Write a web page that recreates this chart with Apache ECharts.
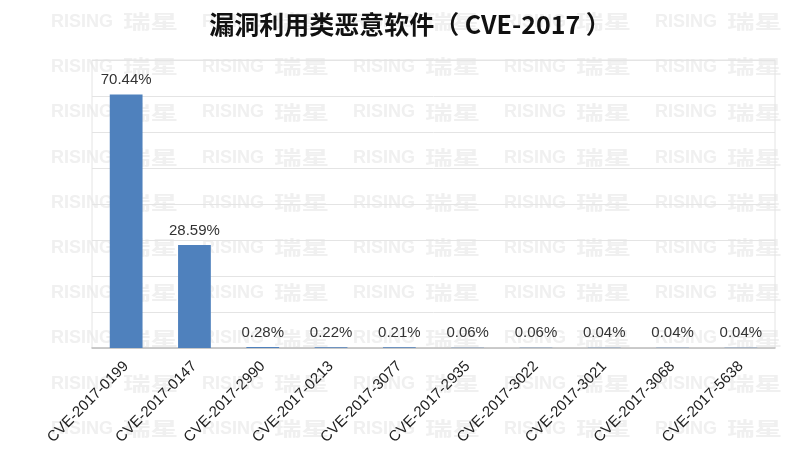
<!DOCTYPE html>
<html>
<head>
<meta charset="utf-8">
<script src="https://cdn.jsdelivr.net/npm/echarts@6/dist/echarts.min.js"></script>
<style>
html,body{margin:0;padding:0;background:#fff;}
#chart{width:793px;height:467px;}
</style>
</head>
<body>
<div id="chart"></div>
<script>
const titleText = '漏洞利用类恶意软件（ CVE-2017 ）';
const categories = ['CVE-2017-0199','CVE-2017-0147','CVE-2017-2990','CVE-2017-0213','CVE-2017-3077','CVE-2017-2935','CVE-2017-3022','CVE-2017-3021','CVE-2017-3068','CVE-2017-5638'];
const values = [70.44, 28.59, 0.28, 0.22, 0.21, 0.06, 0.06, 0.04, 0.04, 0.04];
const yMin = 0, yMax = 80, yInterval = 10;

// decorative watermark ("RISING 瑞星") tiled behind the chart
const watermark = [];
for (let r = 0; r < 10; r++) {
  for (let c = 0; c < 5; c++) {
    const x = 51 + c * 151;
    const y = 22 + r * 45.2;
    watermark.push({
      type: 'text', z: -10, silent: true,
      x: x, y: y,
      style: { text: 'RISING', fill: '#F0F0F0', font: 'bold 18px "Liberation Sans", Arial', textVerticalAlign: 'middle' }
    });
    watermark.push({
      type: 'text', z: -10, silent: true,
      x: x + 72, y: y, scaleX: 1.45,
      style: { text: '瑞星', fill: '#F0F0F0', font: 'bold 19px "Noto Sans CJK SC"', textVerticalAlign: 'middle' }
    });
  }
}

const chart = echarts.init(document.getElementById('chart'), null, {renderer: 'canvas'});
chart.setOption({
  animation: false,
  backgroundColor: '#ffffff',
  title: {
    text: titleText,
    left: 405, top: 7, textAlign: 'center',
    textStyle: { fontFamily: '"Noto Sans CJK SC", sans-serif', fontSize: 25, fontWeight: 'bold', color: '#111111' }
  },
  graphic: watermark,
  grid: {
    left: 92, right: 18, top: 60, bottom: 119,
    show: true, borderColor: '#E4E4E4', borderWidth: 1, backgroundColor: 'transparent'
  },
  xAxis: {
    type: 'category',
    data: categories,
    axisLine: { lineStyle: { color: '#BFBFBF', width: 1.5 } },
    axisTick: { show: false },
    axisLabel: {
      rotate: 45, interval: 0, margin: 16,
      fontFamily: '"Liberation Sans", Arial, sans-serif', fontSize: 15, color: '#222222'
    }
  },
  yAxis: {
    type: 'value',
    min: yMin, max: yMax, interval: yInterval,
    axisLine: { show: false },
    axisTick: { show: false },
    axisLabel: { show: false },
    splitLine: { lineStyle: { color: '#E4E4E4', width: 1 } }
  },
  series: [{
    type: 'bar',
    data: values,
    barWidth: '48%',
    itemStyle: { color: '#4F81BD' },
    label: {
      show: true, position: 'top', distance: 7,
      formatter: p => p.value.toFixed(2) + '%',
      fontFamily: '"Liberation Sans", Arial, sans-serif', fontSize: 15, color: '#333333'
    }
  }]
});
</script>
</body>
</html>
